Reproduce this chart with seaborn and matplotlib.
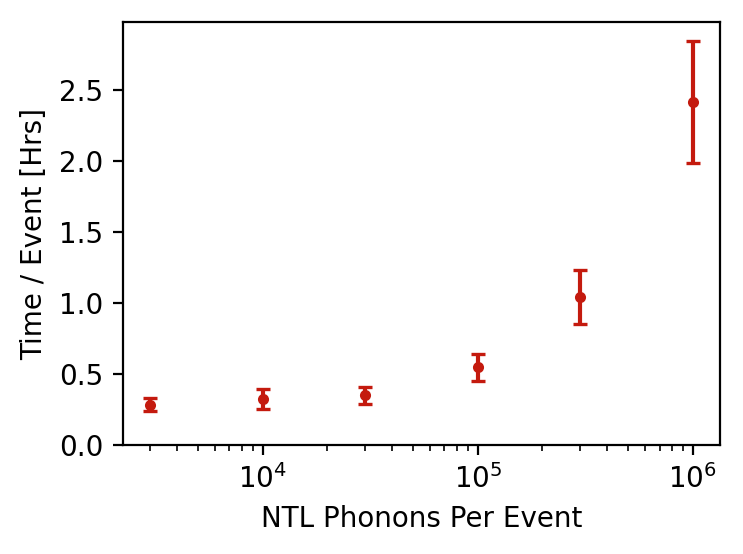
"""
Time per event vs NTL phonons per event
"""

import numpy as np
import pandas as pd
import matplotlib
matplotlib.use("Agg")
import matplotlib.pyplot as plt
import seaborn as sns

# Data
phonons = [3e3, 1e4, 3e4, 1e5, 3e5, 1e6]
time_per_event = [0.285, 0.325, 0.35, 0.548, 1.04, 2.42]
time_err = [0.045, 0.068, 0.062, 0.096, 0.19, 0.43]

RED = '#C41A0E'

sns.set_style("ticks")
plt.rcParams['font.family'] = ['DejaVu Sans']
plt.rcParams['font.size'] = 10
plt.rcParams['text.color'] = 'black'
plt.rcParams['axes.labelcolor'] = 'black'
plt.rcParams['xtick.color'] = 'black'
plt.rcParams['ytick.color'] = 'black'

df = pd.DataFrame({'phonons': phonons, 'time': time_per_event, 'err': time_err})

fig = plt.figure(figsize=(743 / 200, 554 / 200), dpi=200)
ax = fig.add_axes([0.1655, 0.1968, 0.8035, 0.7632])

ax.errorbar(df['phonons'], df['time'], yerr=df['err'], fmt='none',
            ecolor=RED, elinewidth=1.5, capsize=2.5, capthick=1.2)
sns.scatterplot(data=df, x='phonons', y='time', ax=ax, color=RED,
                s=16, edgecolor=RED, linewidth=0, zorder=3)

ax.set_xscale('log')
ax.set_ylim(bottom=0)
ax.set_xlabel('NTL Phonons Per Event')
ax.set_ylabel('Time / Event [Hrs]')

for spine in ax.spines.values():
    spine.set_visible(True)
    spine.set_color('black')
    spine.set_linewidth(0.8)
ax.tick_params(direction='out', colors='black', labelcolor='black')

plt.savefig('out.png', dpi=200)
plt.close()
